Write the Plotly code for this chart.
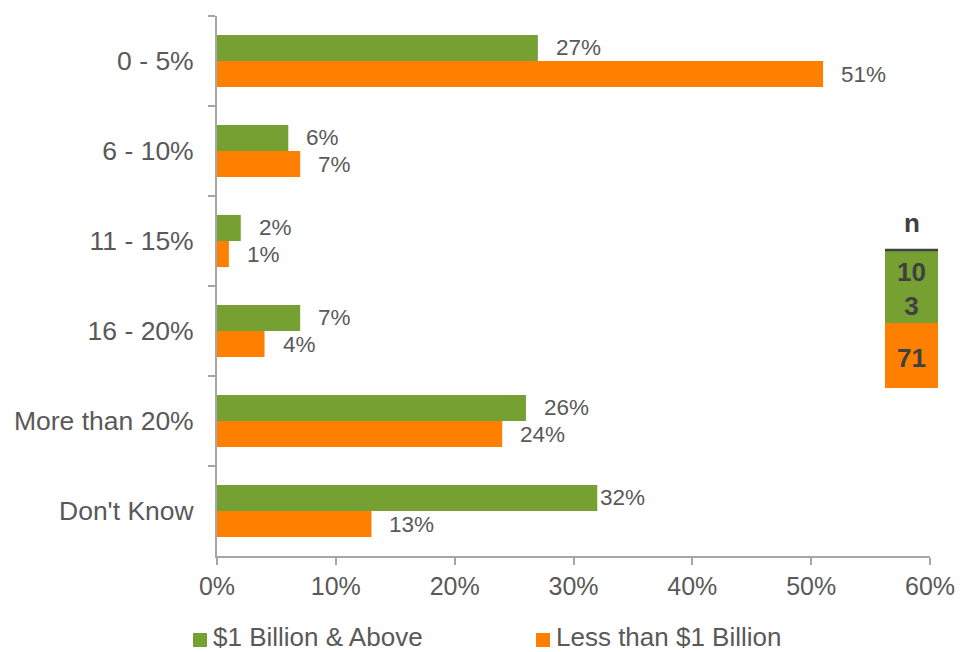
import plotly.graph_objects as go

# Survey response buckets (top to bottom)
categories = ["0 - 5%", "6 - 10%", "11 - 15%", "16 - 20%", "More than 20%", "Don't Know"]

# Share of respondents by company size (percent)
series_names = ["$1 Billion & Above", "Less than $1 Billion"]
large_values = [27, 6, 2, 7, 26, 32]
small_values = [51, 7, 1, 4, 24, 13]

# Sample sizes per group
sample_sizes = [103, 71]

x_ticks = [0, 10, 20, 30, 40, 50, 60]

GREEN = "#77A033"
ORANGE = "#FF8000"
TEXT = "#595959"
AXIS = "#A6A6A6"
FONT = "Arial, Liberation Sans, sans-serif"

BARGAP = 0.42

fig = go.Figure()
for name, vals, color in [(series_names[0], large_values, GREEN),
                          (series_names[1], small_values, ORANGE)]:
    fig.add_trace(go.Bar(
        name=name, x=vals, y=categories, orientation="h",
        marker=dict(color=color, line=dict(width=0)),
        hoverinfo="skip", showlegend=False,
    ))

# Value labels next to each bar end
bar_w = (1 - BARGAP) / 2
for k, vals in enumerate([large_values, small_values]):
    off = -bar_w / 2 if k == 0 else bar_w / 2
    for i, v in enumerate(vals):
        shift = 1 if (k == 0 and categories[i] == "Don't Know") else 16
        fig.add_annotation(
            x=v, y=i + off, xref="x", yref="y", text=f"{v}%",
            showarrow=False, xanchor="left", yanchor="middle", xshift=shift,
            font=dict(family=FONT, size=22.5, color=TEXT),
        )

# Pixel -> paper coordinate helpers (plot area spans x 217..930, y 16..556)
def px_x(p):
    return (p - 217) / 713

def px_y(p):
    return (556 - p) / 540

# Sample size box (n)
fig.add_shape(type="rect", xref="paper", yref="paper",
              x0=px_x(885), x1=px_x(938), y0=px_y(323), y1=px_y(250),
              fillcolor=GREEN, line=dict(width=0), layer="above")
fig.add_shape(type="rect", xref="paper", yref="paper",
              x0=px_x(885), x1=px_x(938), y0=px_y(388), y1=px_y(323),
              fillcolor=ORANGE, line=dict(width=0), layer="above")
fig.add_shape(type="line", xref="paper", yref="paper",
              x0=px_x(885), x1=px_x(938), y0=px_y(250), y1=px_y(250),
              line=dict(color="#404040", width=2.5), layer="above")
nfont = dict(family=FONT, size=26, color="#404040")
for text, py in [("<b>n</b>", 223),
                 (f"<b>{str(sample_sizes[0])[:2]}<br>{str(sample_sizes[0])[2:]}</b>", 289),
                 (f"<b>{sample_sizes[1]}</b>", 358)]:
    fig.add_annotation(x=px_x(911.5), y=px_y(py), xref="paper", yref="paper",
                       text=text, showarrow=False, xanchor="center",
                       yanchor="middle", font=nfont)

# Legend: colour swatch followed by series name
for name, color, sx in [(series_names[0], GREEN, 193), (series_names[1], ORANGE, 536)]:
    fig.add_shape(type="rect", xref="paper", yref="paper",
                  x0=px_x(sx), x1=px_x(sx + 14), y0=px_y(647), y1=px_y(633),
                  fillcolor=color, line=dict(width=0))
    fig.add_annotation(x=px_x(sx + 19), y=px_y(637), xref="paper", yref="paper",
                       text=name, showarrow=False, xanchor="left", yanchor="middle",
                       borderpad=0,
                       font=dict(family=FONT, size=26, color=TEXT))

fig.update_layout(
    width=960, height=652,
    margin=dict(l=217, r=30, t=16, b=96, autoexpand=False),
    paper_bgcolor="white", plot_bgcolor="white",
    barmode="group", bargap=BARGAP, bargroupgap=0,
    font=dict(family=FONT, color=TEXT),
    showlegend=False,
    xaxis=dict(
        range=[0, 60], tickvals=x_ticks, ticktext=[f"{t}%" for t in x_ticks],
        showgrid=False, zeroline=False,
        showline=True, linecolor=AXIS, linewidth=2,
        ticks="outside", ticklen=7, tickcolor=AXIS, tickwidth=2,
        tickfont=dict(family=FONT, size=25, color=TEXT),
        automargin=False,
        fixedrange=True,
    ),
    yaxis=dict(
        type="category", autorange="reversed",
        showgrid=False, zeroline=False,
        showline=True, linecolor=AXIS, linewidth=2,
        ticks="outside", tickson="boundaries", ticklen=7, tickcolor=AXIS, tickwidth=2,
        tickfont=dict(family=FONT, size=26.5, color=TEXT),
        ticklabelstandoff=16,
        automargin=False,
        fixedrange=True,
    ),
)

fig.write_html("out.html", config={"displayModeBar": False})
